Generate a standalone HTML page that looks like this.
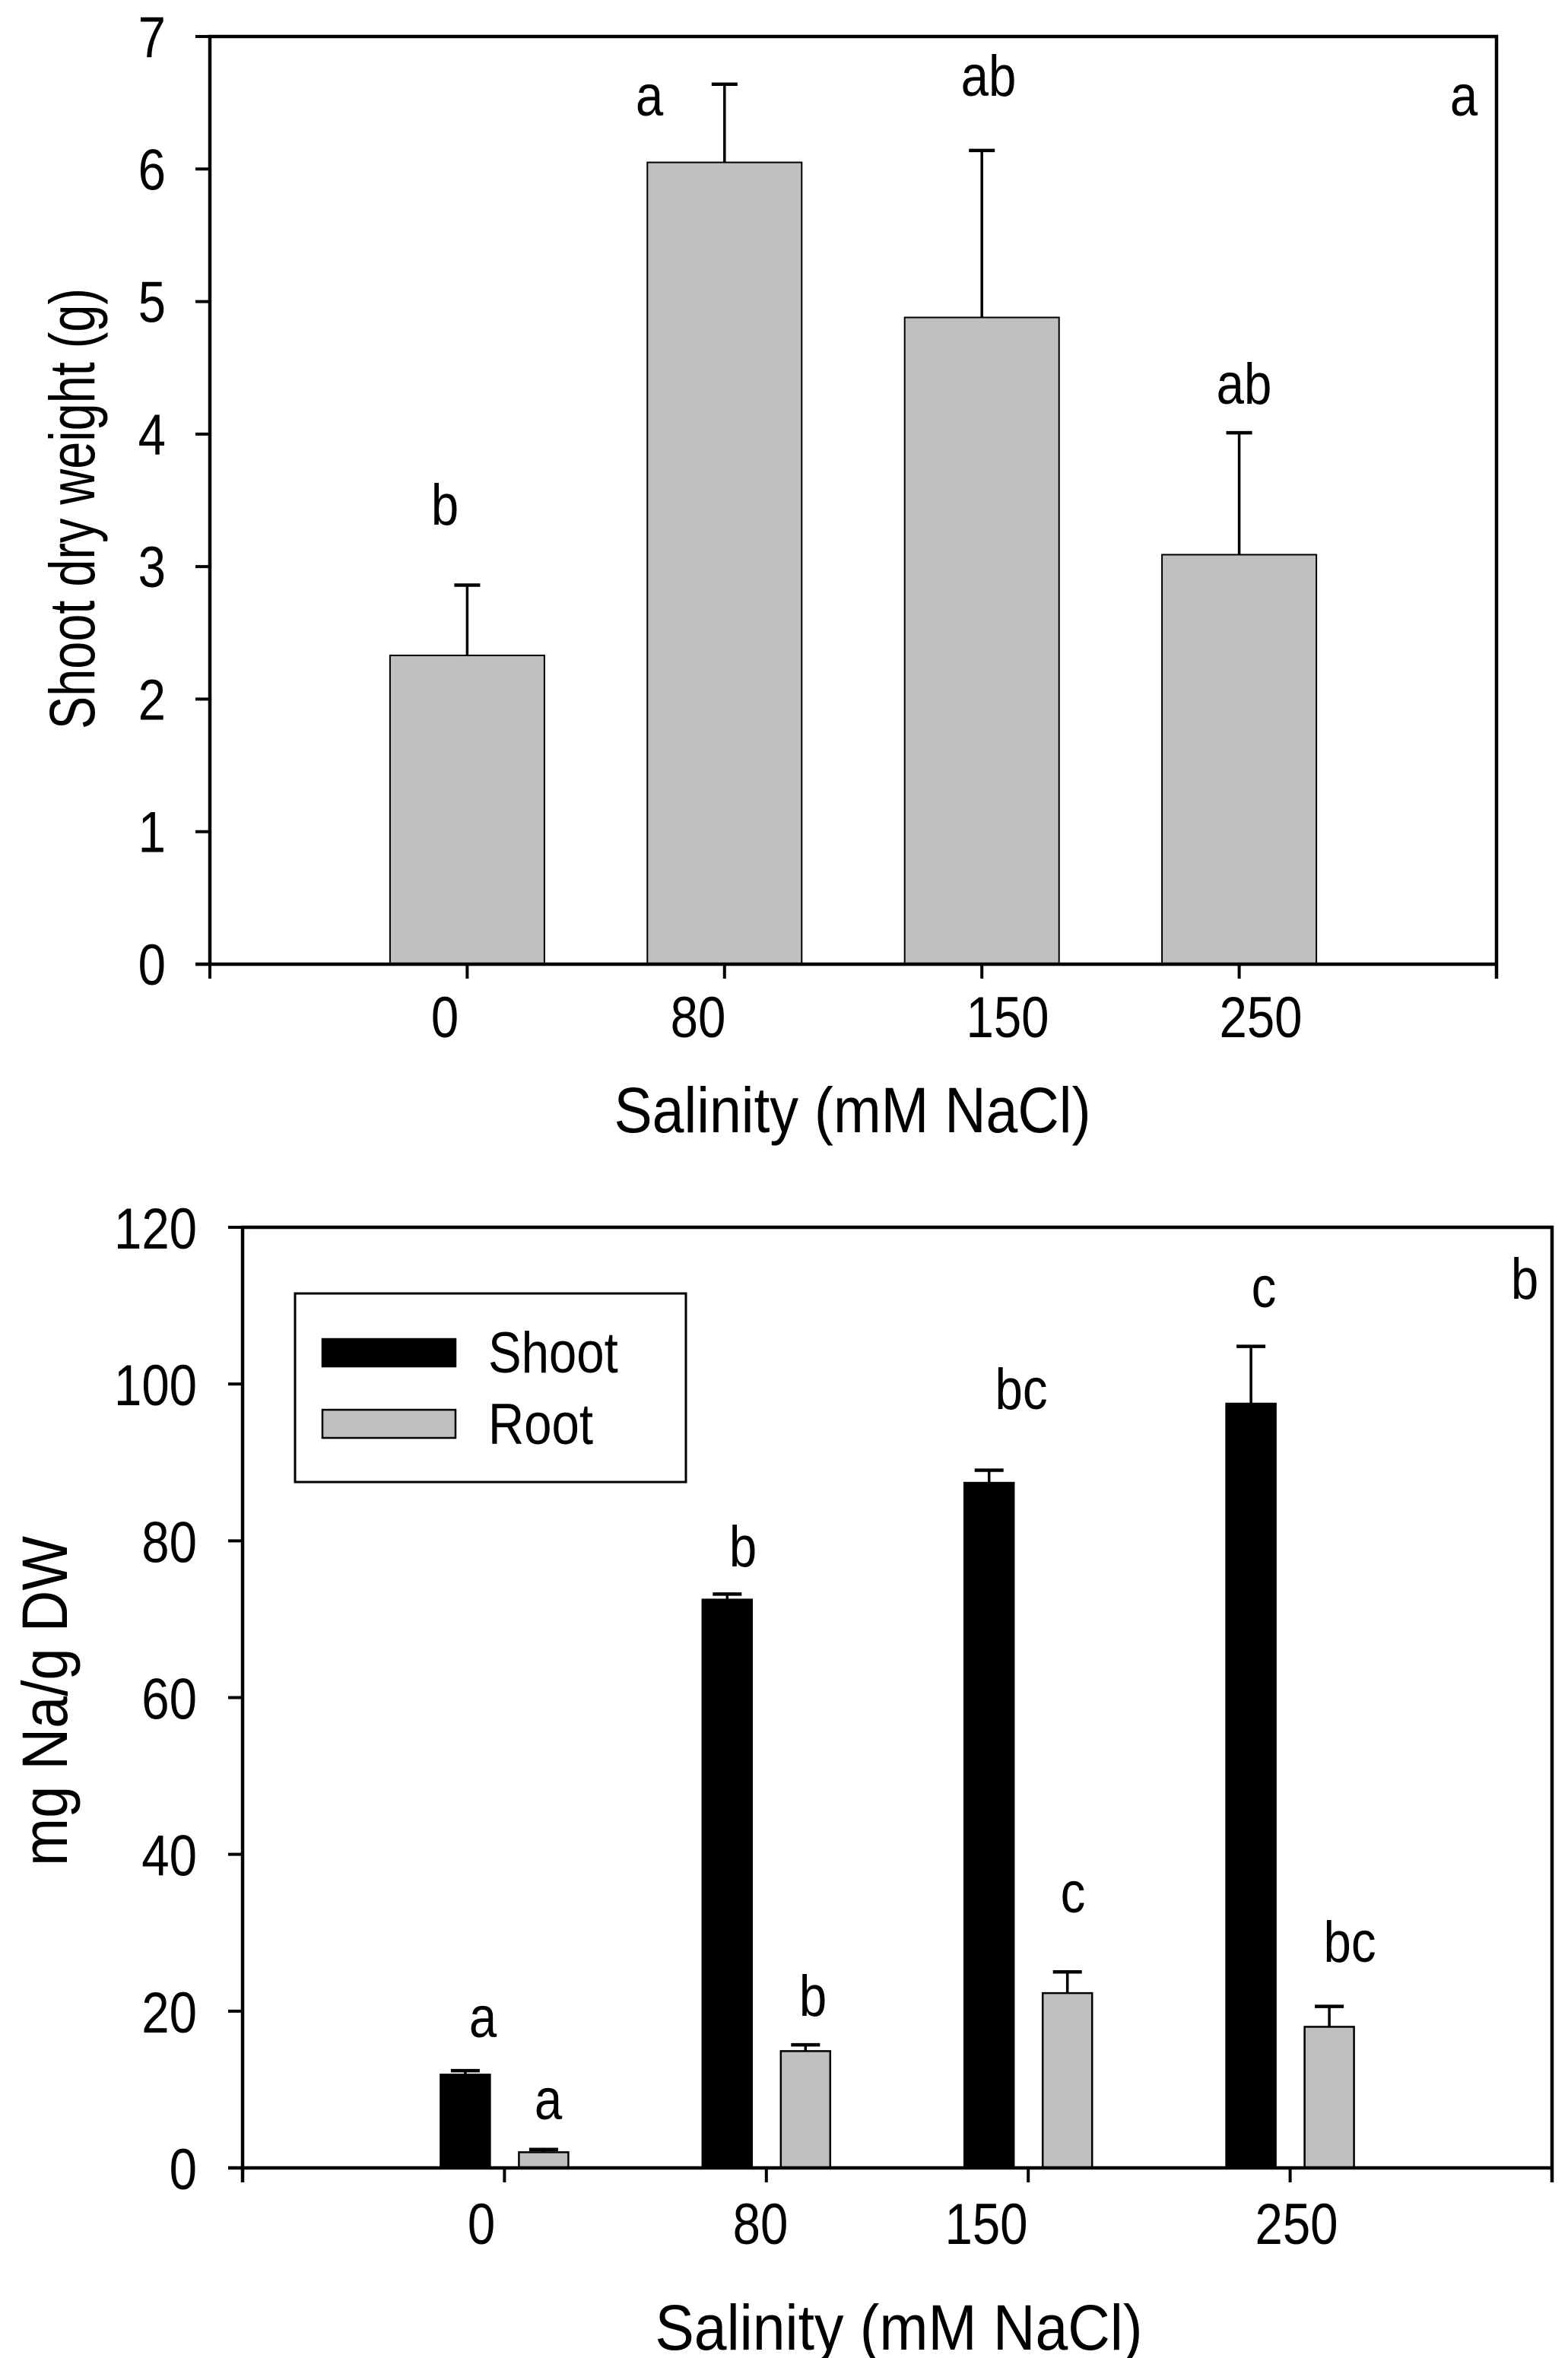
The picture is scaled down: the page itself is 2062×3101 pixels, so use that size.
<!DOCTYPE html>
<html><head><meta charset="utf-8"><style>
html,body{margin:0;padding:0;background:#fff;}
svg{display:block;}
text{font-family:"Liberation Sans",Arial,sans-serif;font-size:76px;fill:#000;}
text.title{font-size:84px;}
</style></head><body>
<svg id="fig" width="2062" height="3101" viewBox="0 0 2062 3101" xmlns="http://www.w3.org/2000/svg"></svg>
<script>
// ---- Top chart data ----
const topCategories = ["0","80","150","250"];
const topValues = [2.33, 6.05, 4.88, 3.09];
const topErrTop = [2.86, 6.64, 6.14, 4.01];
const topLetters = ["b","a","ab","ab","a"];
const topYTicks = [0,1,2,3,4,5,6,7];
// ---- Bottom chart data ----
const botCategories = ["0","80","150","250"];
const shootValues = [11.9, 72.5, 87.4, 97.5];
const shootErrTop = [12.4, 73.2, 89.0, 104.8];
const rootValues = [2.0, 14.9, 22.3, 18.0];
const rootErrTop = [2.35, 15.7, 25.0, 20.6];
const shootLetters = ["a","b","bc","c"];
const rootLetters = ["a","b","c","bc"];
const extraLetter = "b";
const botYTicks = [0,20,40,60,80,100,120];

const NS="http://www.w3.org/2000/svg";
const svg=document.getElementById('fig');
function mk(tag,attrs,parent){const e=document.createElementNS(NS,tag);for(const k in attrs)e.setAttribute(k,attrs[k]);(parent||svg).appendChild(e);return e;}
function txt(x,y,s,anchor,parent){const e=mk('text',{transform:`translate(${x},${y}) scale(0.86,1)`,'text-anchor':anchor||'middle'},parent);e.textContent=s;return e;}
function line(x1,y1,x2,y2,w,parent){return mk('line',{x1,y1,x2,y2,stroke:'#000','stroke-width':w},parent);}

// ===== TOP CHART =====
const T={l:276,r:1968,t:48,b:1268,ymax:7};
const ty=v=>T.b-(v/T.ymax)*(T.b-T.t);
const tsp=(T.r-T.l)/5;
const tx=i=>T.l+tsp*(i+1);
const gTop=mk('g',{});


const tBarW=203;
topValues.forEach((v,i)=>{
  const r=mk('rect',{x:tx(i)-tBarW/2,y:ty(v),width:tBarW,height:T.b-ty(v),fill:'#c0c0c0',stroke:'#000','stroke-width':2},gTop);
  
  
  const e=line(tx(i),ty(v),tx(i),ty(topErrTop[i]),3.5,gTop);
  
  
  const c=line(tx(i)-17,ty(topErrTop[i]),tx(i)+17,ty(topErrTop[i]),4.5,gTop);
  
  
});
mk('path',{d:`M${T.l},${T.b} L${T.l},${T.t} L${T.r},${T.t} L${T.r},${T.b+19} M${T.l-19},${T.b} L${T.r},${T.b}`,fill:'none',stroke:'#000','stroke-width':4.5},gTop);
topYTicks.forEach(v=>{line(T.l-19,ty(v),T.l,ty(v),4,gTop);const t=txt(218,ty(v)+27,String(v),'end',gTop);});
for(let k=0;k<=5;k++){line(T.l+tsp*k,T.b,T.l+tsp*k,T.b+19,4,gTop);}
const topXLabelX=[585,918,1325,1658];
topCategories.forEach((c,i)=>{const t=txt(topXLabelX[i],1364,c,'middle',gTop);});
const topLetterPos=[[585,690],[854,152],[1300,126],[1636,531],[1925,152]];
topLetters.forEach((s,i)=>{const t=txt(topLetterPos[i][0],topLetterPos[i][1],s,'middle',gTop);});
let yt=mk('text',{x:0,y:0,'class':'title','text-anchor':'middle',transform:'translate(124,669) rotate(-90)',textLength:580,lengthAdjust:'spacingAndGlyphs'},gTop);
yt.textContent='Shoot dry weight (g)';

let xt=mk('text',{x:1121,y:1489,'class':'title','text-anchor':'middle',textLength:627,lengthAdjust:'spacingAndGlyphs'},gTop);
xt.textContent='Salinity (mM NaCl)';


// ===== BOTTOM CHART =====
const B={l:319,r:2041,t:1614,b:2851,ymax:120};
const by=v=>B.b-(v/B.ymax)*(B.b-B.t);
const bsp=(B.r-B.l)/5;
const bx=i=>B.l+bsp*(i+1);
const gB=mk('g',{});


const bBarW=65, off=51.5;
function drawBar(cx,v,err,fill,name){
  const r=mk('rect',{x:cx-bBarW/2,y:by(v),width:bBarW,height:B.b-by(v),fill:fill,stroke:'#000','stroke-width':2.5},gB);
  
  
  const e=line(cx,by(v),cx,by(err),3.5,gB);
  
  
  const c=line(cx-19,by(err),cx+19,by(err),4.5,gB);
  
  
}
botCategories.forEach((c,i)=>{
  drawBar(bx(i)-off,shootValues[i],shootErrTop[i],'#000','shoot-bar-'+c);
  drawBar(bx(i)+off,rootValues[i],rootErrTop[i],'#c0c0c0','root-bar-'+c);
});
mk('path',{d:`M${B.l},${B.b+19} L${B.l},${B.t} L${B.r},${B.t} L${B.r},${B.b+19} M${B.l-19},${B.b} L${B.r},${B.b}`,fill:'none',stroke:'#000','stroke-width':4.5},gB);
botYTicks.forEach(v=>{line(B.l-19,by(v),B.l,by(v),4,gB);const t=txt(259,by(v)+28,String(v),'end',gB);});
for(let k=0;k<=5;k++){line(B.l+bsp*k,B.b,B.l+bsp*k,B.b+19,4,gB);}
const botXLabelX=[633,1000,1297,1705];
botCategories.forEach((c,i)=>{const t=txt(botXLabelX[i],2951,c,'middle',gB);});
const shootLetterPos=[[635,2679],[977,2060],[1343,1853],[1662,1719]];
const rootLetterPos=[[721,2787],[1069,2651],[1411,2515],[1775,2580]];
shootLetters.forEach((s,i)=>{const t=txt(shootLetterPos[i][0],shootLetterPos[i][1],s,'middle',gB);});
rootLetters.forEach((s,i)=>{const t=txt(rootLetterPos[i][0],rootLetterPos[i][1],s,'middle',gB);});
{const t=txt(2005,1708,extraLetter,'middle',gB);}
const lg=mk('g',{},gB);


mk('rect',{x:388,y:1701,width:514,height:248,fill:'#fff',stroke:'#000','stroke-width':3},lg);
const ls=mk('rect',{x:424,y:1761,width:175,height:36,fill:'#000',stroke:'#000','stroke-width':2.5},lg);

const lr=mk('rect',{x:424,y:1854,width:175,height:37,fill:'#c0c0c0',stroke:'#000','stroke-width':2.5},lg);

{const t=txt(642,1805,'Shoot','start',lg);}
{const t=txt(642,1899,'Root','start',lg);}
let yt2=mk('text',{x:0,y:0,'class':'title','text-anchor':'middle',transform:'translate(88,2237) rotate(-90)',textLength:434,lengthAdjust:'spacingAndGlyphs'},gB);
yt2.textContent='mg Na/g DW';

let xt2=mk('text',{x:1182,y:3090,'class':'title','text-anchor':'middle',textLength:641,lengthAdjust:'spacingAndGlyphs'},gB);
xt2.textContent='Salinity (mM NaCl)';

</script>
</body></html>
